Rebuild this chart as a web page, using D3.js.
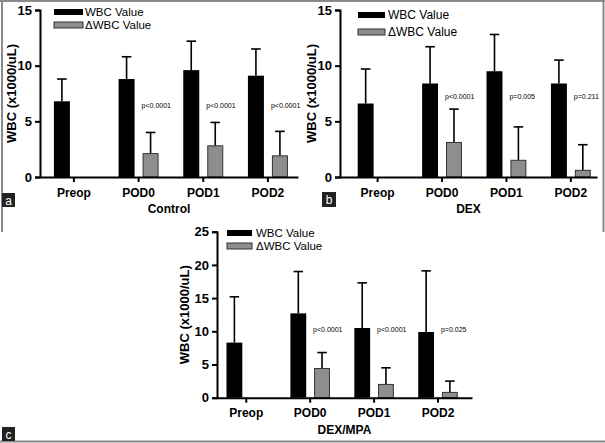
<!DOCTYPE html>
<html>
<head>
<meta charset="utf-8">
<script src="https://cdn.jsdelivr.net/npm/d3@7"></script>
<style>
  html, body { margin: 0; padding: 0; background: #fff; }
  svg { display: block; }
  text { font-family: "Liberation Sans", Arial, sans-serif; }
</style>
</head>
<body>
<svg id="chart" width="605" height="443"></svg>
<script>
// ---------- data ----------
const categories = ["Preop", "POD0", "POD1", "POD2"];
const seriesNames = ["WBC Value", "\u0394WBC Value"];

const controlWBC   = [6.8, 8.8, 9.6, 9.1];
const controlWBCsd = [2.0, 2.0, 2.6, 2.4];
const controlDelta   = [null, 2.1, 2.8, 1.9];
const controlDeltaSd = [null, 1.9, 2.1, 2.2];
const controlP = [null, "p<0.0001", "p<0.0001", "p<0.0001"];

const dexWBC   = [6.6, 8.4, 9.5, 8.4];
const dexWBCsd = [3.1, 3.3, 3.3, 2.1];
const dexDelta   = [null, 3.1, 1.5, 0.6];
const dexDeltaSd = [null, 3.0, 3.0, 2.3];
const dexP = [null, "p<0.0001", "p=0.005", "p=0.211"];

const mpaWBC   = [8.3, 12.7, 10.5, 9.9];
const mpaWBCsd = [6.9, 6.3, 6.8, 9.2];
const mpaDelta   = [null, 4.4, 2.0, 0.8];
const mpaDeltaSd = [null, 2.4, 2.5, 1.7];
const mpaP = [null, "p<0.0001", "p<0.0001", "p=0.025"];

const controlTicks = [0, 5, 10, 15];
const dexTicks = [0, 5, 10, 15];
const mpaTicks = [0, 5, 10, 15, 20, 25];

const yTitle = "WBC (x1000/uL)";

// ---------- layout ----------
const panels = [
  { letter: "a", title: "Control", wbc: controlWBC, wbcSd: controlWBCsd, delta: controlDelta, deltaSd: controlDeltaSd, p: controlP,
    ticks: controlTicks, yMax: 15, x0: 40, x1: 298, yTop: 10, yBot: 177, align: 0.58, pY: 6.2,
    yTitleX: 11, leg: { x: 54, y1: 9, y2: 22, w: 29, h: 6, tx: 85, fs: 11.5 }, box: { x: 2, y: 193, w: 13, h: 14 } },
  { letter: "b", title: "DEX", wbc: dexWBC, wbcSd: dexWBCsd, delta: dexDelta, deltaSd: dexDeltaSd, p: dexP,
    ticks: dexTicks, yMax: 15, x0: 340, x1: 597, yTop: 10, yBot: 177, align: 0.74, pY: 7.0,
    yTitleX: 311, leg: { x: 358, y1: 12, y2: 29, w: 27, h: 6, tx: 388, fs: 12 }, box: { x: 322, y: 192, w: 14, h: 15 } },
  { letter: "c", title: "DEX/MPA", wbc: mpaWBC, wbcSd: mpaWBCsd, delta: mpaDelta, deltaSd: mpaDeltaSd, p: mpaP,
    ticks: mpaTicks, yMax: 25, x0: 217, x1: 472, yTop: 231.7, yBot: 397.7, align: 0.4, pY: 9.9,
    yTitleX: 184, leg: { x: 227, y1: 230, y2: 243, w: 25, h: 6, tx: 256, fs: 11.5 }, box: { x: 2, y: 427, w: 13, h: 14 } }
];

const svg = d3.select("#chart");

// outer frame
const frame = svg.append("g").attr("stroke", "#8a8a8a").attr("stroke-width", 2);
frame.append("line").attr("x1", 0).attr("x2", 605).attr("y1", 1).attr("y2", 1);
frame.append("line").attr("x1", 2).attr("x2", 2).attr("y1", 0).attr("y2", 232);
frame.append("line").attr("x1", 603.5).attr("x2", 603.5).attr("y1", 0).attr("y2", 232);
frame.append("line").attr("x1", 0).attr("x2", 605).attr("y1", 441.5).attr("y2", 441.5);

const BLACK = "#000";
const GRAY = "#8e8e8e";

panels.forEach(P => {
  const g = svg.append("g");
  const y = d3.scaleLinear().domain([0, P.yMax]).range([P.yBot, P.yTop]);
  const x = d3.scaleBand().domain(categories).range([P.x0, P.x1])
    .paddingInner(0.3815).paddingOuter(0.1856).align(P.align);
  const xs = d3.scaleBand().domain(["wbc", "delta"]).range([0, x.bandwidth()])
    .paddingInner(1 / 3).paddingOuter(0);

  const rows = categories.map((c, i) => ({ c, i }));

  // error bars (up only) drawn first so bars cover the base
  function errBars(key, vals, sds) {
    const cw = xs.bandwidth() * 0.6;
    rows.filter(d => vals[d.i] != null).forEach(d => {
      const cx = x(d.c) + xs(key) + xs.bandwidth() / 2;
      const top = y(vals[d.i] + sds[d.i]);
      g.append("line").attr("x1", cx).attr("x2", cx)
        .attr("y1", y(vals[d.i])).attr("y2", top)
        .attr("stroke", "#000").attr("stroke-width", 1.6);
      g.append("line").attr("x1", cx - cw / 2).attr("x2", cx + cw / 2)
        .attr("y1", top).attr("y2", top)
        .attr("stroke", "#000").attr("stroke-width", 1.6);
    });
  }
  errBars("wbc", P.wbc, P.wbcSd);
  errBars("delta", P.delta, P.deltaSd);

  g.selectAll("rect.wbc").data(rows).join("rect")
    .attr("class", "wbc")
    .attr("x", d => x(d.c) + xs("wbc"))
    .attr("width", xs.bandwidth())
    .attr("y", d => y(P.wbc[d.i]))
    .attr("height", d => y(0) - y(P.wbc[d.i]))
    .attr("fill", BLACK);

  g.selectAll("rect.delta").data(rows.filter(d => P.delta[d.i] != null)).join("rect")
    .attr("class", "delta")
    .attr("x", d => x(d.c) + xs("delta") + 0.5)
    .attr("width", xs.bandwidth() - 1)
    .attr("y", d => y(P.delta[d.i]))
    .attr("height", d => y(0) - y(P.delta[d.i]))
    .attr("fill", GRAY).attr("stroke", "#333").attr("stroke-width", 1);

  // p-values
  g.selectAll("text.pv").data(rows.filter(d => P.p[d.i] != null)).join("text")
    .attr("class", "pv")
    .attr("x", d => x(d.c) + xs("delta") - 1)
    .attr("y", y(P.pY))
    .attr("font-size", 7)
    .attr("fill", "#000")
    .text(d => P.p[d.i]);

  // y axis
  const yAxis = d3.axisLeft(y).tickValues(P.ticks).tickSize(5).tickPadding(3).tickFormat(d3.format("d"));
  const ya = g.append("g").attr("transform", `translate(${P.x0},0)`).call(yAxis);
  ya.select(".domain").attr("stroke", "#000").attr("stroke-width", 2);
  ya.selectAll(".tick line").attr("stroke", "#000").attr("stroke-width", 2);
  ya.selectAll(".tick text").attr("font-size", 13).attr("font-weight", "bold")
    .attr("font-family", "Liberation Sans, Arial, sans-serif").attr("fill", "#000");

  // x axis
  const xAxis = d3.axisBottom(x).tickSize(5).tickPadding(6).tickSizeOuter(0);
  const xa = g.append("g").attr("transform", `translate(0,${P.yBot})`).call(xAxis);
  xa.select(".domain").attr("stroke", "#000").attr("stroke-width", 2);
  xa.selectAll(".tick line").attr("stroke", "#000").attr("stroke-width", 2);
  xa.selectAll(".tick text").attr("font-size", 12).attr("font-weight", "bold")
    .attr("font-family", "Liberation Sans, Arial, sans-serif").attr("fill", "#000");

  // axis titles
  g.append("text")
    .attr("x", (P.x0 + P.x1) / 2).attr("y", P.yBot + 36)
    .attr("text-anchor", "middle").attr("font-size", 12).attr("font-weight", "bold")
    .text(P.title);
  g.append("text")
    .attr("transform", `translate(${P.yTitleX},${(P.yTop + P.yBot) / 2}) rotate(-90)`)
    .attr("text-anchor", "middle").attr("dominant-baseline", "central")
    .attr("font-size", 13).attr("font-weight", "bold")
    .text(yTitle);

  // legend
  const L = P.leg;
  [[L.y1, BLACK], [L.y2, GRAY]].forEach(([ly, col], k) => {
    g.append("rect").attr("x", L.x).attr("y", ly).attr("width", L.w).attr("height", L.h)
      .attr("fill", col).attr("stroke", k ? "#333" : "none").attr("stroke-width", 1);
    g.append("text").attr("x", L.tx).attr("y", ly + L.h / 2)
      .attr("dominant-baseline", "central").attr("font-size", L.fs).text(seriesNames[k]);
  });

  // panel letter
  const B = P.box;
  g.append("rect").attr("x", B.x).attr("y", B.y).attr("width", B.w).attr("height", B.h).attr("fill", "#222");
  g.append("text").attr("x", B.x + B.w / 2).attr("y", B.y + B.h / 2 + 0.5)
    .attr("text-anchor", "middle").attr("dominant-baseline", "central")
    .attr("font-size", 12).attr("fill", "#fff").text(P.letter);
});
</script>
</body>
</html>
